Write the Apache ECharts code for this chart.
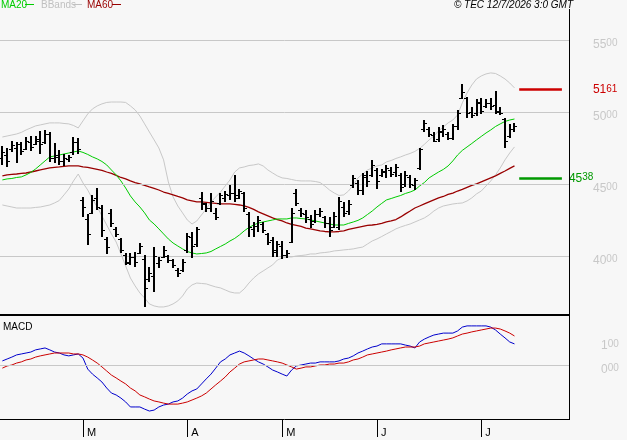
<!DOCTYPE html>
<html><head><meta charset="utf-8">
<script src="https://cdn.jsdelivr.net/npm/echarts@6/dist/echarts.min.js"></script>
<style>html,body{margin:0;padding:0;background:#f7f7f7}#c{width:627px;height:440px}</style>
</head><body><div id="c"></div>
<script>
// ---- trading days (Euronext calendar, 2026) ----
const febDays = [5,6,9,10,11,12,13,16,17,18,19,20,23,24,25,26,27];
const marDays = [2,3,4,5,6,9,10,11,12,13,16,17,18,19,20,23,24,25,26,27,30,31];
const aprDays = [1,2,7,8,9,10,13,14,15,16,17,20,21,22,23,24,27,28,29,30];
const mayDays = [4,5,6,7,8,11,12,13,14,15,18,19,20,21,22,25,26,27,28,29];
const junDays = [1,2,3,4,5,8,9,10,11,12,15,16,17,18,19,22,23,24,25,26,29,30];
const julDays = [1,2,3,6,7,8,9,10];
const futureJulDays = [13,14,15,16,17,20,21,22,23,24,27]; // empty space on the right
const monthLabels = ['M','A','M','J','J'];

// ---- OHLC ----
const opens = [46.80,47.00,47.40,47.50,47.75,47.40,47.90,47.80,48.00,47.90,
48.50,46.80,46.90,46.60,46.70,47.20,47.90,43.90,42.60,43.00,
44.00,43.30,41.20,43.00,41.90,41.20,40.10,39.50,39.90,40.20,
39.80,38.40,38.60,39.50,39.90,40.00,39.70,39.00,39.00,40.40,
41.30,40.80,44.00,43.60,43.30,43.00,43.70,44.00,44.20,44.40,
44.20,44.40,42.90,41.90,42.10,42.20,41.50,41.10,40.40,40.70,
40.10,41.00,44.40,43.20,42.90,42.60,42.40,42.90,42.70,42.30,
42.00,42.00,43.40,43.10,44.90,45.10,44.60,45.50,45.60,46.00,
45.60,45.80,46.00,45.80,45.60,45.00,45.50,44.90,46.10,48.80,
48.80,48.40,48.10,48.60,48.50,48.20,49.00,51.00,51.00,50.00,
49.90,50.60,50.40,50.60,50.50,50.10,49.50,48.30,48.80];
const highs = [47.64,47.50,47.99,47.92,47.92,48.26,48.33,48.33,48.68,48.75,
48.61,47.85,47.36,47.08,47.01,48.26,48.19,44.10,42.92,44.24,
44.72,43.54,41.32,43.26,42.01,41.25,40.21,40.21,40.28,40.90,
40.07,39.24,40.62,39.93,40.69,40.07,39.79,39.17,39.79,41.60,
41.67,42.01,44.44,43.68,44.37,43.33,44.37,44.51,44.93,45.63,
44.65,44.44,43.06,42.36,42.78,42.36,41.60,41.32,41.04,41.04,
40.42,43.33,44.65,43.33,43.19,42.85,43.19,43.33,42.78,42.71,
43.06,44.10,43.75,43.89,45.63,45.28,45.76,45.90,46.67,46.11,
46.04,46.32,46.18,46.39,45.76,45.90,45.63,45.42,47.50,49.44,
48.96,48.61,48.96,49.10,48.61,49.17,50.14,51.94,51.04,50.35,
50.90,50.97,50.90,50.97,51.46,50.35,49.58,49.17,49.24];
const lows = [46.32,46.18,47.22,46.46,47.01,47.36,47.29,47.71,47.08,47.78,
46.53,46.46,46.32,46.25,46.53,47.01,47.08,42.71,40.76,42.92,
43.19,41.32,40.14,42.01,41.32,40.21,39.38,39.38,39.24,40.14,
36.46,38.19,37.50,39.17,39.86,39.51,39.17,38.54,38.89,40.21,
39.86,40.62,43.19,43.06,43.06,42.50,43.54,43.75,43.89,43.75,
43.96,43.06,41.32,41.32,41.67,41.60,40.76,39.93,39.93,39.79,
39.86,40.90,43.47,42.71,42.29,41.94,42.29,42.71,41.94,41.32,
41.94,41.81,42.71,42.85,44.72,44.24,44.24,44.79,45.49,44.65,
45.49,45.42,45.49,45.49,44.44,44.79,44.72,44.58,45.97,48.61,
48.26,47.92,47.92,48.26,48.06,48.06,48.75,50.90,49.58,49.58,
49.72,49.86,50.28,50.14,49.86,49.79,47.50,48.19,48.61];
const closes = [47.20,46.60,47.70,47.75,47.30,48.00,47.60,48.10,47.80,48.50,
46.80,47.00,46.60,46.80,46.90,47.90,47.40,43.40,41.50,43.90,
43.40,41.80,40.60,42.30,41.50,40.40,39.60,39.90,39.60,40.70,
37.80,38.80,40.00,39.70,40.40,39.70,39.40,38.80,39.60,41.40,
40.70,41.90,43.70,43.30,43.80,42.70,44.20,44.30,44.40,44.00,
44.50,43.30,42.00,42.10,42.50,41.80,41.00,40.30,40.80,40.10,
40.20,43.00,43.70,43.00,42.70,42.20,42.90,43.10,42.30,41.80,
42.80,43.80,43.00,43.60,45.40,44.60,45.60,45.20,46.30,45.20,
45.90,46.10,45.70,46.20,44.80,45.60,45.00,45.30,47.40,49.20,
48.50,48.00,48.70,48.80,48.20,49.00,49.90,51.40,49.90,49.80,
50.70,50.10,50.60,50.40,50.00,49.90,48.00,48.80,49.00];

// ---- indicators ----
const ma20 = [45.28,45.35,45.38,45.45,45.49,45.63,45.80,46.04,46.32,46.60,
46.88,46.94,47.01,47.08,47.15,47.22,47.29,47.19,47.05,46.88,
46.74,46.56,46.32,45.97,45.63,45.21,44.72,44.17,43.75,43.40,
42.99,42.50,42.22,41.88,41.53,41.18,40.90,40.69,40.49,40.31,
40.21,40.14,40.17,40.21,40.31,40.49,40.66,40.83,41.04,41.22,
41.46,41.74,41.98,42.15,42.29,42.36,42.43,42.50,42.57,42.57,
42.57,42.64,42.64,42.60,42.57,42.50,42.43,42.36,42.29,42.22,
42.15,42.15,42.15,42.26,42.36,42.47,42.64,42.88,43.12,43.40,
43.65,43.89,43.99,44.10,44.20,44.34,44.44,44.58,44.86,45.10,
45.42,45.63,45.83,46.01,46.25,46.60,47.01,47.33,47.57,47.81,
48.06,48.30,48.54,48.75,48.99,49.17,49.34,49.44,49.51];
const ma60 = [45.56,45.63,45.66,45.69,45.73,45.76,45.83,45.90,45.97,46.04,
46.11,46.15,46.18,46.22,46.25,46.25,46.25,46.18,46.15,46.08,
46.01,45.94,45.83,45.73,45.59,45.45,45.35,45.21,45.10,45.00,
44.90,44.79,44.69,44.58,44.44,44.34,44.24,44.13,44.03,43.89,
43.82,43.75,43.75,43.72,43.68,43.65,43.61,43.61,43.61,43.58,
43.54,43.47,43.37,43.23,43.06,42.92,42.78,42.64,42.53,42.43,
42.29,42.19,42.12,42.05,41.94,41.88,41.81,41.74,41.70,41.67,
41.67,41.70,41.74,41.84,41.91,41.98,42.05,42.12,42.15,42.19,
42.26,42.36,42.43,42.53,42.71,42.92,43.12,43.33,43.47,43.61,
43.75,43.89,44.03,44.13,44.27,44.37,44.51,44.62,44.76,44.90,
45.00,45.14,45.28,45.42,45.56,45.73,45.90,46.08,46.25];
const bbUpper = [48.26,48.33,48.40,48.47,48.58,48.75,48.89,49.03,49.10,49.17,
49.24,49.24,49.24,49.20,49.17,49.06,48.89,49.38,49.86,50.21,
50.42,50.56,50.66,50.69,50.69,50.69,50.66,50.42,50.14,49.72,
49.17,48.61,48.06,47.50,46.67,45.14,44.10,43.47,42.99,42.50,
42.22,42.43,42.85,43.26,43.75,44.10,44.44,44.86,45.28,45.83,
46.11,46.18,46.28,46.32,46.39,46.25,45.97,45.76,45.56,45.42,
45.38,45.31,45.24,45.21,45.21,45.21,45.17,45.10,44.86,44.58,
44.37,44.20,44.24,44.51,44.93,45.42,45.69,45.97,46.11,46.25,
46.32,46.53,46.63,46.77,46.88,47.01,47.12,47.26,47.47,47.75,
48.06,48.33,48.68,48.96,49.24,49.44,49.79,50.63,51.32,51.87,
52.29,52.50,52.64,52.71,52.67,52.50,52.29,52.01,51.67];
const bbLower = [43.54,43.47,43.40,43.33,43.33,43.33,43.33,43.37,43.40,43.47,
43.54,43.68,43.85,44.24,44.65,45.21,45.69,45.07,44.58,43.96,
43.40,42.78,42.15,41.53,40.97,40.14,39.31,38.47,37.92,37.43,
37.08,36.67,36.53,36.46,36.46,36.53,36.67,36.88,37.22,37.71,
37.99,38.12,38.09,38.06,37.95,37.85,37.78,37.64,37.50,37.43,
37.43,37.71,38.12,38.47,38.75,38.96,39.17,39.38,39.72,39.86,
39.93,39.93,40.00,40.03,40.07,40.14,40.14,40.21,40.24,40.28,
40.35,40.38,40.42,40.45,40.49,40.56,40.62,40.83,41.04,41.18,
41.35,41.53,41.70,41.88,42.01,42.12,42.22,42.36,42.50,42.64,
42.85,43.12,43.33,43.47,43.54,43.61,43.65,43.68,43.82,44.03,
44.31,44.51,44.86,45.21,45.63,46.11,46.67,47.15,47.57];
const macdLine = [0.17,0.25,0.33,0.42,0.46,0.50,0.54,0.63,0.67,0.71,
0.63,0.54,0.50,0.42,0.38,0.42,0.46,0.29,-0.17,-0.38,
-0.54,-0.71,-0.96,-1.17,-1.25,-1.38,-1.54,-1.75,-1.75,-1.75,
-1.84,-1.92,-1.88,-1.75,-1.67,-1.63,-1.54,-1.50,-1.38,-1.21,
-1.08,-1.00,-0.79,-0.58,-0.38,-0.13,0.13,0.25,0.42,0.50,
0.58,0.50,0.38,0.25,0.13,0.04,-0.08,-0.21,-0.29,-0.38,
-0.46,-0.21,-0.04,0.00,0.04,0.08,0.08,0.13,0.13,0.13,
0.13,0.17,0.25,0.29,0.38,0.50,0.58,0.67,0.75,0.79,
0.88,0.88,0.88,0.88,0.88,0.83,0.79,0.71,0.96,1.08,
1.17,1.25,1.29,1.33,1.33,1.33,1.42,1.58,1.63,1.63,
1.63,1.63,1.63,1.58,1.46,1.29,1.13,0.96,0.88];
const signalLine = [-0.13,-0.04,0.00,0.08,0.13,0.21,0.25,0.33,0.38,0.42,
0.46,0.50,0.50,0.50,0.50,0.46,0.46,0.42,0.33,0.21,
0.08,-0.08,-0.25,-0.42,-0.54,-0.67,-0.79,-0.96,-1.08,-1.25,
-1.33,-1.42,-1.50,-1.54,-1.59,-1.63,-1.63,-1.63,-1.59,-1.54,
-1.46,-1.38,-1.29,-1.17,-1.00,-0.83,-0.67,-0.50,-0.29,-0.13,
0.04,0.13,0.17,0.21,0.25,0.25,0.21,0.17,0.13,0.08,
0.00,-0.08,-0.17,-0.13,-0.08,-0.08,-0.04,0.00,0.00,0.04,
0.04,0.08,0.08,0.13,0.21,0.25,0.33,0.42,0.46,0.50,
0.54,0.58,0.63,0.67,0.71,0.75,0.75,0.75,0.79,0.88,
0.92,0.96,1.00,1.04,1.08,1.13,1.21,1.29,1.33,1.38,
1.42,1.46,1.50,1.54,1.54,1.50,1.42,1.33,1.21];

const priceTicks = [40, 45, 50, 55];
const macdTicks = [0, 1];
const levelValues = [51.61, 45.38];

// ---- build categories ----
const pad = n => (n < 10 ? '0' : '') + n;
const categories = [];
[[2,febDays],[3,marDays],[4,aprDays],[5,mayDays],[6,junDays],[7,julDays],[7,futureJulDays]]
  .forEach(([m, days]) => days.forEach(d => categories.push('2026-' + pad(m) + '-' + pad(d))));
const nBars = opens.length;
const monthStartIdx = [];
for (let i = 1; i < nBars; i++) if (categories[i].slice(5,7) !== categories[i-1].slice(5,7)) monthStartIdx.push(i);
const isMonthStart = (i) => monthStartIdx.indexOf(i) >= 0;

const ohlc = opens.map((o, i) => [i, o, closes[i], lows[i], highs[i]]);

const FONT = '"Liberation Sans", Arial, sans-serif';
function splitLabel(v) {
  const s = Number(v).toFixed(2).split('.');
  return '{b|' + s[0] + '}{s|' + s[1] + '}';
}
function richFor(color) {
  return {
    b: { fontSize: 12, fontFamily: FONT, color: color, lineHeight: 12, verticalAlign: 'bottom' },
    s: { fontSize: 10, fontFamily: FONT, color: color, lineHeight: 12, verticalAlign: 'top', padding: [0, 0, 2, 0] }
  };
}

function renderOHLC(params, api) {
  const i = api.value(0);
  const o = api.coord([i, api.value(1)]);
  const c = api.coord([i, api.value(2)]);
  const l = api.coord([i, api.value(3)]);
  const h = api.coord([i, api.value(4)]);
  const x = Math.round(o[0]);
  return {
    type: 'group',
    children: [
      { type: 'rect', shape: { x: x - 1, y: Math.round(h[1]), width: 2, height: Math.max(1, Math.round(l[1]) - Math.round(h[1])) }, style: { fill: '#000' } },
      { type: 'rect', shape: { x: x - 3, y: Math.round(o[1]), width: 2, height: 1 }, style: { fill: '#000' } },
      { type: 'rect', shape: { x: x + 1, y: Math.round(c[1]), width: 2, height: 1 }, style: { fill: '#000' } }
    ]
  };
}

const GRAY = '#c8c8c8';
const chart = echarts.init(document.getElementById('c'), null, { renderer: 'canvas' });
chart.setOption({
  animation: false,
  backgroundColor: '#f7f7f7',
  grid: [
    { left: 0, top: 12, width: 569, height: 302 },
    { left: 0, top: 316, width: 569, height: 103 }
  ],
  xAxis: [
    { type: 'category', gridIndex: 0, data: categories, boundaryGap: true, show: false },
    { type: 'category', gridIndex: 1, data: categories, boundaryGap: true, position: 'bottom',
      axisLine: { show: true, onZero: false, lineStyle: { color: '#000', width: 1 } },
      axisTick: { show: true, alignWithLabel: true, length: 18, interval: (i) => isMonthStart(i), lineStyle: { color: '#000', width: 1 } },
      axisLabel: { show: true, interval: (i) => isMonthStart(i), color: '#000', fontSize: 11, fontFamily: FONT,
        align: 'left', margin: 8, padding: [0, 0, 0, 4],
        formatter: (v, i) => monthLabels[monthStartIdx.indexOf(i)] || '' },
      splitLine: { show: false } }
  ],
  yAxis: [
    { type: 'value', gridIndex: 0, min: 35.97, max: 56.94, show: false, splitLine: { show: false } },
    { type: 'value', gridIndex: 1, min: -2.252, max: 2.043, show: false, splitLine: { show: false } }
  ],
  series: [
    { name: 'BB upper', type: 'line', xAxisIndex: 0, yAxisIndex: 0, data: bbUpper, showSymbol: false, z: 2,
      lineStyle: { color: GRAY, width: 1 }, silent: true,
      markLine: { silent: true, symbol: 'none', animation: false,
        lineStyle: { color: GRAY, width: 1, type: 'solid' },
        label: { position: 'end', distance: 24, padding: [9, 0, 0, 0], formatter: p => splitLabel(p.value), rich: richFor(GRAY) },
        data: priceTicks.map(v => ({ yAxis: v })) } },
    { name: 'BB lower', type: 'line', xAxisIndex: 0, yAxisIndex: 0, data: bbLower, showSymbol: false, z: 2,
      lineStyle: { color: GRAY, width: 1 }, silent: true },
    { name: 'MA60', type: 'line', xAxisIndex: 0, yAxisIndex: 0, data: ma60, showSymbol: false, z: 3,
      lineStyle: { color: '#990000', width: 1.3 }, silent: true,
      markLine: { silent: true, symbol: 'none', animation: false,
        data: [
          [ { coord: [109, levelValues[0]], lineStyle: { color: '#cc0000', width: 2.5, type: 'solid' },
              label: { position: 'end', distance: 31, padding: [2, 0, 0, 0], formatter: () => splitLabel(levelValues[0]), rich: richFor('#cc0000') } },
            { coord: [118, levelValues[0]] } ],
          [ { coord: [109, levelValues[1]], lineStyle: { color: '#009900', width: 2.5, type: 'solid' },
              label: { position: 'end', distance: 7, formatter: () => splitLabel(levelValues[1]), rich: richFor('#009900') } },
            { coord: [118, levelValues[1]] } ]
        ] } },
    { name: 'MA20', type: 'line', xAxisIndex: 0, yAxisIndex: 0, data: ma20, showSymbol: false, z: 3,
      lineStyle: { color: '#00cc00', width: 1 }, silent: true },
    { name: 'OHLC', type: 'custom', xAxisIndex: 0, yAxisIndex: 0, data: ohlc, renderItem: renderOHLC, z: 5,
      encode: { x: 0, y: [1, 2, 3, 4] }, silent: true },
    { name: 'MACD', type: 'line', xAxisIndex: 1, yAxisIndex: 1, data: macdLine, showSymbol: false, z: 3,
      lineStyle: { color: '#0000cc', width: 1 }, silent: true,
      markLine: { silent: true, symbol: 'none', animation: false,
        label: { position: 'end', distance: 32, padding: [9, 0, 0, 0], formatter: p => splitLabel(p.value), rich: richFor(GRAY) },
        data: [
          { yAxis: macdTicks[0], lineStyle: { color: GRAY, width: 1, type: 'solid' } },
          { yAxis: macdTicks[1], lineStyle: { color: 'rgba(0,0,0,0)', width: 1, type: 'solid' } }
        ] } },
    { name: 'Signal', type: 'line', xAxisIndex: 1, yAxisIndex: 1, data: signalLine, showSymbol: false, z: 3,
      lineStyle: { color: '#cc0000', width: 1 }, silent: true }
  ],
  graphic: [
    { type: 'text', x: 1, y: 5, style: { text: 'MA20', fill: '#00cc00', font: '10px ' + FONT, verticalAlign: 'middle' } },
    { type: 'rect', shape: { x: 25, y: 4, width: 9, height: 1 }, style: { fill: '#00cc00' } },
    { type: 'text', x: 41, y: 5, style: { text: 'BBands', fill: '#c0c0c0', font: '10px ' + FONT, verticalAlign: 'middle' } },
    { type: 'rect', shape: { x: 73, y: 4, width: 9, height: 1 }, style: { fill: '#c0c0c0' } },
    { type: 'text', x: 87, y: 5, style: { text: 'MA60', fill: '#990000', font: '10px ' + FONT, verticalAlign: 'middle' } },
    { type: 'rect', shape: { x: 112, y: 4, width: 9, height: 1 }, style: { fill: '#990000' } },
    { type: 'text', x: 573, y: 5, style: { text: '\u00a9 TEC 12/7/2026 3:0 GMT', fill: '#000', font: 'italic 10px ' + FONT, align: 'right', verticalAlign: 'middle' } },
    { type: 'text', x: 3, y: 327, style: { text: 'MACD', fill: '#000', font: '10px ' + FONT, verticalAlign: 'middle' } },
    { type: 'rect', shape: { x: 0, y: 314, width: 570, height: 2 }, style: { fill: '#000' }, z: 10 },
    { type: 'rect', shape: { x: 569, y: 9, width: 1, height: 411 }, style: { fill: '#000' }, z: 10 }
  ]
});
</script>
</body></html>
